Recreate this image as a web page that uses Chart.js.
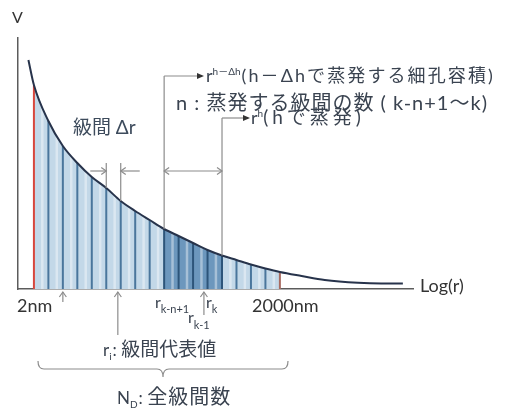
<!DOCTYPE html>
<html lang="ja">
<head>
<meta charset="UTF-8">
<title>細孔分布 級間</title>
<style>
  html, body { margin: 0; padding: 0; background: #fff; }
  #wrap { width: 507px; height: 418px; }
</style>
</head>
<body>
<div id="wrap"><canvas id="myChart" width="507" height="418"></canvas></div>
<script src="https://cdn.jsdelivr.net/npm/chart.js"></script>
<script>
// 曲線 (x = log(r) の目盛, y = V)
const curveX = [0.62, 1, 2, 3, 4, 5, 6, 7, 8, 9, 10, 11, 12, 13, 14, 15, 16, 17, 18, 19.5, 21.1, 23.4, 25, 26.5];
const curveY = [22.9, 20.4, 16.8, 14.3, 12.6, 11.2, 10.1, 8.8, 7.8, 6.9, 6.0, 5.3, 4.6, 3.9, 3.35, 2.9, 2.45, 2.05, 1.7, 1.3, 0.9, 0.62, 0.55, 0.55];

// 級間の境界 (2nm ～ 2000nm)
const binEdges = [1, 2, 3, 4, 5, 6, 7, 8, 9, 10, 11, 12, 13, 14, 15, 16, 17, 18];
const edgeHeights = [20.4, 16.8, 14.3, 12.6, 11.2, 10.1, 8.8, 7.8, 6.9, 6.0, 5.3, 4.6, 3.9, 3.35, 2.9, 2.45, 2.05, 1.7];

// 蒸発する級間 (k-n+1 ～ k)
const evapFrom = 10;
const evapTo = 14;

// Δr の例, 矢印の位置
const deltaEdges = [6, 7];
const arrowAt = { nm2: 3.0, ri: 6.8, rk: 12.75 };

const FONT = 'Lato, "Noto Sans CJK JP", sans-serif';
const TXT = '#3a4350';
const GREY = '#8c8c8c';

const pts = (xs, ys) => xs.map((x, i) => ({ x: x, y: ys[i] }));
const lightPts = pts(binEdges, edgeHeights);
const darkPts = lightPts.filter(p => p.x >= evapFrom && p.x <= evapTo);

// runs: [text, size, dy, gap, letterSpacing]
function drawRuns(ctx, x, y, runs, color) {
    ctx.fillStyle = color || TXT;
    ctx.textBaseline = 'alphabetic';
    ctx.textAlign = 'left';
    runs.forEach(r => {
        ctx.font = r[1] + 'px ' + FONT;
        ctx.letterSpacing = (r[4] || 0) + 'px';
        ctx.fillText(r[0], x, y + (r[2] || 0));
        x += ctx.measureText(r[0]).width + (r[3] || 0);
    });
    ctx.letterSpacing = '0px';
}

function line(ctx, x1, y1, x2, y2) {
    ctx.beginPath(); ctx.moveTo(x1, y1); ctx.lineTo(x2, y2); ctx.stroke();
}

// 開いた矢じり
function openHead(ctx, x, y, dir) {
    const s = 5;
    ctx.beginPath();
    if (dir === 'r') { ctx.moveTo(x - s, y - s * 0.7); ctx.lineTo(x, y); ctx.lineTo(x - s, y + s * 0.7); }
    if (dir === 'l') { ctx.moveTo(x + s, y - s * 0.7); ctx.lineTo(x, y); ctx.lineTo(x + s, y + s * 0.7); }
    if (dir === 'u') { ctx.moveTo(x - s * 0.7, y + s); ctx.lineTo(x, y); ctx.lineTo(x + s * 0.7, y + s); }
    ctx.stroke();
}

function solidHead(ctx, x, y) {
    ctx.beginPath();
    ctx.moveTo(x, y); ctx.lineTo(x - 7, y - 3); ctx.lineTo(x - 7, y + 3); ctx.closePath();
    ctx.fill();
}

const binLines = {
    id: 'binLines',
    afterDatasetDraw(chart, args) {
        if (args.index !== 1) return;
        const ctx = chart.ctx, xs = chart.scales.x, ys = chart.scales.y;
        const y0 = ys.getPixelForValue(0);
        ctx.save();
        // 級間の中の明るい筋
        ctx.strokeStyle = 'rgba(255,255,255,0.4)';
        ctx.lineWidth = 2.5;
        for (let i = 0; i < binEdges.length - 1; i++) {
            const xm = xs.getPixelForValue(binEdges[i] + 0.58);
            const h = edgeHeights[i + 1] + 0.35 * (edgeHeights[i] - edgeHeights[i + 1]);
            line(ctx, xm, y0, xm, ys.getPixelForValue(h));
        }
        binEdges.forEach((e, i) => {
            const px = xs.getPixelForValue(e);
            ctx.lineWidth = 2;
            if (i === 0) ctx.strokeStyle = '#d8473d';
            else if (i === binEdges.length - 1) ctx.strokeStyle = '#a86a60';
            else if (e >= evapFrom && e <= evapTo) ctx.strokeStyle = '#2d557a';
            else ctx.strokeStyle = '#4a769c';
            line(ctx, px, y0, px, ys.getPixelForValue(edgeHeights[i]));
        });
        ctx.restore();
    }
};

const notes = {
    id: 'notes',
    afterDraw(chart) {
        const ctx = chart.ctx, xs = chart.scales.x, ys = chart.scales.y;
        const X = v => xs.getPixelForValue(v);
        const Y = v => ys.getPixelForValue(v);
        const hOf = e => edgeHeights[binEdges.indexOf(e)];
        const y0 = Y(0);
        ctx.save();

        // 軸ラベル
        drawRuns(ctx, 12, 23, [['V', 16]], '#333');
        drawRuns(ctx, chart.chartArea.right + 7, 292, [['Log(r)', 18]], '#333');
        drawRuns(ctx, 17, 312, [['2nm', 18]], '#333');
        drawRuns(ctx, 252, 312, [['2000nm', 18]], '#333');

        // 級間 Δr
        drawRuns(ctx, 73, 134, [['級間 ', 19], ['Δr', 19]], '#3d4b5c');
        ctx.strokeStyle = GREY; ctx.lineWidth = 1.2;
        const d1 = X(deltaEdges[0]), d2 = X(deltaEdges[1]);
        line(ctx, d1, 163, d1, Y(hOf(deltaEdges[0])));
        line(ctx, d2, 163, d2, Y(hOf(deltaEdges[1])));
        line(ctx, d1 - 16, 171, d1, 171); openHead(ctx, d1, 171, 'r');
        line(ctx, d2 + 19, 171, d2, 171); openHead(ctx, d2, 171, 'l');

        // 蒸発する範囲
        const e1 = X(evapFrom), e2 = X(evapTo);
        line(ctx, e1, 76, e1, Y(hOf(evapFrom)));
        line(ctx, e2, 118, e2, Y(hOf(evapTo)));
        line(ctx, e1, 76, 202, 76);
        line(ctx, e2, 118, 248, 118);
        line(ctx, e1, 171, e2, 171);
        openHead(ctx, e1, 171, 'l'); openHead(ctx, e2, 171, 'r');
        ctx.fillStyle = '#333';
        solidHead(ctx, 204, 76);
        solidHead(ctx, 250, 118);

        drawRuns(ctx, 206, 82, [['r', 18], ['h－Δh', 10, -7, 1], ['(h－Δhで蒸発する細孔容積)', 18, 0, 0, 2.1]]);
        drawRuns(ctx, 176, 110, [['n : 蒸発する級間の数 ( k-n+1～k)', 20, 0, 0, 1]]);
        drawRuns(ctx, 251, 124, [['r', 18], ['h', 10, -7], ['(hで蒸発)', 19, 0, 0, 4]]);

        // 下の矢印と記号
        ctx.strokeStyle = GREY; ctx.lineWidth = 1.2;
        const a1 = X(arrowAt.nm2), a2 = X(arrowAt.ri), a3 = X(arrowAt.rk);
        line(ctx, a1, y0 + 13, a1, y0 + 3); openHead(ctx, a1, y0 + 3, 'u');
        line(ctx, a2, y0 + 46, a2, y0 + 3); openHead(ctx, a2, y0 + 3, 'u');
        line(ctx, a3, y0 + 26, a3, y0 + 3); openHead(ctx, a3, y0 + 3, 'u');
        drawRuns(ctx, 155, 308, [['r', 16], ['k-n+1', 11, 5]]);
        drawRuns(ctx, 206, 308, [['r', 16], ['k', 11, 5]]);
        drawRuns(ctx, 188, 323, [['r', 16], ['k-1', 11, 6]]);

        drawRuns(ctx, 103, 356, [['r', 17], ['i', 10, 4, 1], [': ', 17], ['級間代表値', 19]]);

        // 全級間の括弧
        ctx.beginPath();
        ctx.moveTo(38, 361);
        ctx.quadraticCurveTo(38, 369, 44, 369);
        ctx.lineTo(157, 369);
        ctx.quadraticCurveTo(163, 369, 163, 377);
        ctx.quadraticCurveTo(163, 369, 169, 369);
        ctx.lineTo(282, 369);
        ctx.quadraticCurveTo(288, 369, 288, 361);
        ctx.stroke();

        drawRuns(ctx, 117, 404, [['N', 17], ['D', 10, 4, 1], [': ', 17], ['全級間数', 20, 0, 0, 1]]);
        ctx.restore();
    }
};

new Chart(document.getElementById('myChart').getContext('2d'), {
    type: 'line',
    data: {
        datasets: [
            {
                label: 'V',
                data: pts(curveX, curveY),
                borderColor: '#27334b',
                borderWidth: 2,
                pointRadius: 0,
                fill: false,
                cubicInterpolationMode: 'monotone'
            },
            {
                label: 'evaporated',
                data: darkPts,
                borderWidth: 0,
                pointRadius: 0,
                backgroundColor: '#6c97bd',
                fill: 'origin',
                cubicInterpolationMode: 'monotone'
            },
            {
                label: 'bins',
                data: lightPts,
                borderWidth: 0,
                pointRadius: 0,
                backgroundColor: '#c3d8e8',
                fill: 'origin',
                cubicInterpolationMode: 'monotone'
            }
        ]
    },
    options: {
        responsive: false,
        animation: false,
        events: [],
        layout: { padding: { left: 18, top: 38, right: 94, bottom: 129 } },
        plugins: { legend: { display: false }, tooltip: { enabled: false } },
        scales: {
            x: {
                type: 'linear', min: -0.1, max: 27.2,
                grid: { display: false, drawTicks: false, tickLength: 0 },
                ticks: { display: false },
                border: { display: true, color: '#5c5c5c', width: 1.5 }
            },
            y: {
                type: 'linear', min: 0, max: 25.1,
                grid: { display: false, drawTicks: false, tickLength: 0 },
                ticks: { display: false },
                border: { display: true, color: '#5c5c5c', width: 1.5 }
            }
        }
    },
    plugins: [binLines, notes]
});
</script>
</body>
</html>
